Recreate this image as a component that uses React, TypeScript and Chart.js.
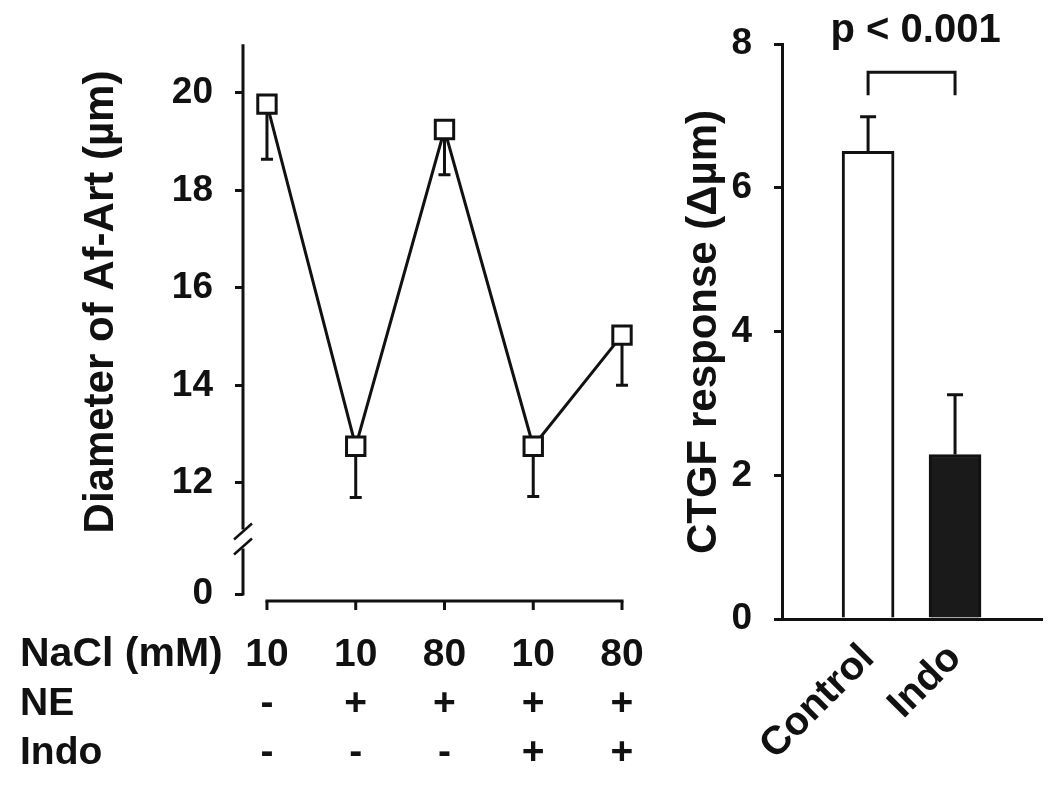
import React, { useEffect, useRef } from "react";
import { Chart, registerables } from "chart.js";

Chart.register(...registerables);

// ---------- data ----------
const naclRow = ["10", "10", "80", "10", "80"];
const neRow = ["-", "+", "+", "+", "+"];
const indoRow = ["-", "-", "-", "+", "+"];
const rowHeaders = ["NaCl (mM)", "NE", "Indo"];
const diameter = [19.77, 12.75, 19.25, 12.75, 15.03];
const diameterErr = [1.13, 1.05, 0.93, 1.03, 1.03];
const upperTicks = [12, 14, 16, 18, 20];
const lowerTicks = [0];
const leftTitle = "Diameter of Af-Art (µm)";

const groups = ["Control", "Indo"];
const response = [6.51, 2.29];
const responseErr = [0.48, 0.83];
const responseTicks = [0, 2, 4, 6, 8];
const rightTitle = "CTGF response (Δµm)";
const pLabel = "p < 0.001";
const bracketLevels = [7.61, 7.29];

const FONT = "'Liberation Sans', Arial, Helvetica, sans-serif";
const INK = "#111111";

function LeftChart() {
  const ref = useRef<HTMLCanvasElement | null>(null);
  useEffect(() => {
    const canvas = ref.current;
    if (!canvas) return;
    const decor = {
      id: "leftDecor",
      beforeDatasetsDraw(chart: any) {
        const { ctx } = chart;
        const xs = chart.scales.x;
        const ys = chart.scales.y;
        ctx.save();
        ctx.strokeStyle = INK;
        ctx.lineWidth = 3;
        diameter.forEach((v, i) => {
          const x = xs.getPixelForValue(i);
          const y1 = ys.getPixelForValue(v);
          const y2 = ys.getPixelForValue(v - diameterErr[i]);
          ctx.beginPath();
          ctx.moveTo(x, y1);
          ctx.lineTo(x, y2);
          ctx.moveTo(x - 6, y2);
          ctx.lineTo(x + 6, y2);
          ctx.stroke();
        });
        ctx.restore();
      },
      afterDraw(chart: any) {
        const { ctx, chartArea } = chart;
        const xs = chart.scales.x;
        const yu = chart.scales.y;
        const yl = chart.scales.y0;
        const ax = chartArea.left;
        ctx.save();
        ctx.strokeStyle = INK;
        ctx.lineWidth = 3;
        // broken y axis
        ctx.beginPath();
        ctx.moveTo(ax, yu.top);
        ctx.lineTo(ax, yu.bottom - 2);
        ctx.stroke();
        ctx.beginPath();
        ctx.moveTo(ax, yl.top + 17);
        ctx.lineTo(ax, yl.bottom + 1.5);
        ctx.stroke();
        ctx.lineWidth = 2.5;
        [yu.bottom, yu.bottom + 15].forEach((c) => {
          ctx.beginPath();
          ctx.moveTo(ax - 9, c + 8);
          ctx.lineTo(ax + 9, c - 8);
          ctx.stroke();
        });
        // detached x axis
        const xy = chartArea.bottom + 7;
        ctx.lineWidth = 3;
        ctx.lineCap = "square";
        ctx.beginPath();
        ctx.moveTo(xs.getPixelForValue(0), xy);
        ctx.lineTo(xs.getPixelForValue(naclRow.length - 1), xy);
        ctx.stroke();
        ctx.lineCap = "butt";
        naclRow.forEach((_, i) => {
          const x = xs.getPixelForValue(i);
          ctx.beginPath();
          ctx.moveTo(x, xy);
          ctx.lineTo(x, xy + 9);
          ctx.stroke();
        });
        // condition table
        ctx.fillStyle = INK;
        ctx.textBaseline = "middle";
        const rows = [naclRow, neRow, indoRow];
        rows.forEach((row, r) => {
          const y = xy + 54 + r * 49;
          ctx.textAlign = "left";
          ctx.font = `bold ${r === 0 ? 41 : 39}px ${FONT}`;
          ctx.fillText(rowHeaders[r], 20, y);
          ctx.font = `bold 39px ${FONT}`;
          ctx.textAlign = "center";
          row.forEach((t, i) => {
            ctx.fillText(t, xs.getPixelForValue(i), y);
          });
        });
        // y title
        ctx.save();
        ctx.translate(101, 302);
        ctx.rotate(-Math.PI / 2);
        ctx.textAlign = "center";
        ctx.textBaseline = "middle";
        ctx.font = `bold 42px ${FONT}`;
        ctx.fillText(leftTitle, 0, 0);
        ctx.restore();
        ctx.restore();
      },
    };

    const tickFont = { size: 37, weight: "bold" as const, family: FONT };
    const chart = new Chart(canvas, {
      type: "line",
      data: {
        datasets: [
          {
            data: diameter.map((v, i) => ({ x: i, y: v })),
            borderColor: INK,
            borderWidth: 3,
            pointStyle: "rect",
            pointRadius: 13,
            pointBorderWidth: 3,
            pointBackgroundColor: "#ffffff",
            pointBorderColor: INK,
            tension: 0,
            yAxisID: "y",
            clip: false,
          } as any,
        ],
      },
      options: {
        responsive: false,
        animation: false,
        devicePixelRatio: 1,
        layout: { padding: { left: 0, right: 28, top: 31, bottom: 195 } },
        plugins: { legend: { display: false }, tooltip: { enabled: false } },
        scales: {
          x: { type: "linear", display: false, min: -0.27, max: naclRow.length - 1 },
          y: {
            type: "linear",
            position: "left",
            stack: "left",
            stackWeight: 499,
            weight: 1,
            min: 11,
            max: 21,
            afterBuildTicks: (s: any) => {
              s.ticks = upperTicks.map((v) => ({ value: v }));
            },
            afterFit: (s: any) => {
              s.width = 243;
            },
            border: { display: false },
            grid: { drawOnChartArea: false, color: INK, lineWidth: 3, tickLength: 8 },
            ticks: { color: INK, font: tickFont, padding: 22 },
          },
          y0: {
            type: "linear",
            position: "left",
            stack: "left",
            stackWeight: 64,
            weight: 0,
            min: 0,
            max: 1,
            afterBuildTicks: (s: any) => {
              s.ticks = lowerTicks.map((v) => ({ value: v }));
            },
            afterFit: (s: any) => {
              s.width = 243;
            },
            border: { display: false },
            grid: { drawOnChartArea: false, color: INK, lineWidth: 3, tickLength: 8 },
            ticks: { color: INK, font: tickFont, padding: 22 },
          },
        } as any,
      },
      plugins: [decor],
    });
    return () => chart.destroy();
  }, []);
  return (
    <canvas
      ref={ref}
      width={650}
      height={789}
      style={{ position: "absolute", left: 0, top: 0, width: 650, height: 789 }}
    />
  );
}

function RightChart() {
  const ref = useRef<HTMLCanvasElement | null>(null);
  useEffect(() => {
    const canvas = ref.current;
    if (!canvas) return;
    const decor = {
      id: "rightDecor",
      afterDatasetsDraw(chart: any) {
        const { ctx, chartArea } = chart;
        const xs = chart.scales.x;
        const ys = chart.scales.y;
        ctx.save();
        ctx.strokeStyle = INK;
        ctx.lineWidth = 3;
        response.forEach((v, i) => {
          const x = xs.getPixelForValue(i);
          const y1 = ys.getPixelForValue(v);
          const y2 = ys.getPixelForValue(v + responseErr[i]);
          ctx.beginPath();
          ctx.moveTo(x, y1);
          ctx.lineTo(x, y2);
          ctx.moveTo(x - 8, y2);
          ctx.lineTo(x + 8, y2);
          ctx.stroke();
        });
        // significance bracket
        const xa = xs.getPixelForValue(0);
        const xb = xs.getPixelForValue(1);
        const yt = ys.getPixelForValue(bracketLevels[0]);
        const yb = ys.getPixelForValue(bracketLevels[1]);
        ctx.beginPath();
        ctx.moveTo(xa, yb);
        ctx.lineTo(xa, yt);
        ctx.lineTo(xb, yt);
        ctx.lineTo(xb, yb);
        ctx.stroke();
        ctx.fillStyle = INK;
        ctx.font = `bold 40px ${FONT}`;
        ctx.textAlign = "center";
        ctx.textBaseline = "middle";
        ctx.fillText(pLabel, (xa + xb) / 2 + 4, chartArea.top - 13);
        // y title
        ctx.save();
        ctx.translate(54, 332);
        ctx.rotate(-Math.PI / 2);
        ctx.font = `bold 42px ${FONT}`;
        ctx.fillText(rightTitle, 0, 0);
        ctx.restore();
        ctx.restore();
      },
    };
    const tickFont = { size: 37, weight: "bold" as const, family: FONT };
    const chart = new Chart(canvas, {
      type: "bar",
      data: {
        datasets: [
          {
            data: response.map((v, i) => ({ x: i, y: v })),
            backgroundColor: ["#ffffff", "#1a1a1a"],
            borderColor: INK,
            borderWidth: 3,
            barThickness: 52,
          } as any,
        ],
      },
      options: {
        responsive: false,
        animation: false,
        devicePixelRatio: 1,
        layout: { padding: { left: 0, right: 8, top: 44, bottom: 0 } },
        plugins: { legend: { display: false }, tooltip: { enabled: false } },
        scales: {
          x: {
            type: "linear",
            offset: false,
            min: -0.99,
            max: 2.0,
            afterBuildTicks: (s: any) => {
              s.ticks = groups.map((_, i) => ({ value: i }));
            },
            afterFit: (s: any) => {
              s.height = 170;
            },
            grid: { display: false, offset: false },
            border: { display: true, color: INK, width: 3 },
            ticks: {
              color: INK,
              font: { size: 40, weight: "bold", family: FONT },
              minRotation: 45,
              maxRotation: 45,
              padding: 8,
              callback: (v: any) => groups[Math.round(Number(v))] ?? "",
            },
          },
          y: {
            type: "linear",
            min: 0,
            max: 8,
            afterBuildTicks: (s: any) => {
              s.ticks = responseTicks.map((v) => ({ value: v }));
            },
            afterFit: (s: any) => {
              s.width = 132;
            },
            border: { display: true, color: INK, width: 3 },
            grid: { drawOnChartArea: false, color: INK, lineWidth: 3, tickLength: 8 },
            ticks: { color: INK, font: tickFont, padding: 22 },
          },
        } as any,
      },
      plugins: [decor],
    });
    return () => chart.destroy();
  }, []);
  return (
    <canvas
      ref={ref}
      width={400}
      height={789}
      style={{ position: "absolute", left: 650, top: 0, width: 400, height: 789 }}
    />
  );
}

export default function App() {
  return (
    <div
      style={{
        position: "absolute",
        left: 0,
        top: 0,
        width: 1050,
        height: 789,
        background: "#ffffff",
        overflow: "hidden",
      }}
    >
      <LeftChart />
      <RightChart />
    </div>
  );
}
